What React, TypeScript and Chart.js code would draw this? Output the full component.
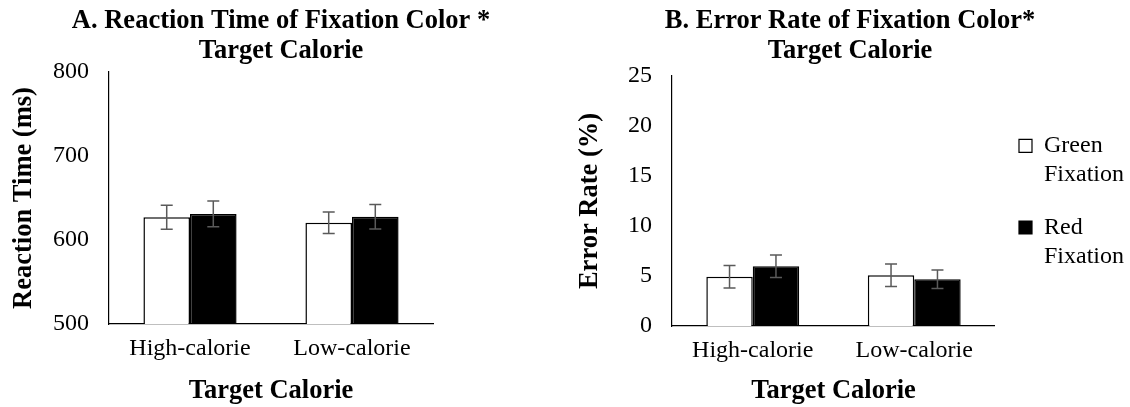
import React, { useEffect, useRef } from 'react';
import { Chart, registerables } from 'chart.js';

Chart.register(...registerables);

// ---- data ----
const categories = ['High-calorie', 'Low-calorie'];
const seriesNames = ['Green Fixation', 'Red Fixation'];

const rtGreen = [627, 620.6];
const rtRed = [631, 627.7];
const rtGreenErr = [14.3, 12.8];
const rtRedErr = [15.3, 14.5];
const rtAxis = [500, 800, 100]; // min, max, step

const erGreen = [4.93, 5.07];
const erRed = [5.97, 4.67];
const erGreenErr = [1.13, 1.13];
const erRedErr = [1.13, 0.92];
const erAxis = [0, 25, 5]; // min, max, step

const titleA = ['A. Reaction Time of Fixation Color *', 'Target Calorie'];
const titleB = ['B. Error Rate of Fixation Color*', 'Target Calorie'];
const yTitleA = 'Reaction Time (ms)';
const yTitleB = 'Error Rate (%)';
const xTitle = 'Target Calorie';

// ---- styling ----
const FAMILY = "'Liberation Serif', 'Times New Roman', serif";
const TEXT = '#000';
const H = 407;

const errorBars = {
  id: 'errorBars',
  afterDatasetsDraw(chart: any) {
    const ctx = chart.ctx;
    const yScale = chart.scales.y;
    chart.data.datasets.forEach((ds: any, i: number) => {
      const meta = chart.getDatasetMeta(i);
      if (meta.hidden || !ds.errors) return;
      meta.data.forEach((bar: any, j: number) => {
        const v = ds.data[j];
        const e = ds.errors[j];
        const x = bar.x;
        const yTop = yScale.getPixelForValue(v + e);
        const yBot = yScale.getPixelForValue(v - e);
        const cap = 6;
        ctx.save();
        ctx.strokeStyle = '#5a5a5a';
        ctx.lineWidth = 1.5;
        ctx.beginPath();
        ctx.moveTo(x, yTop);
        ctx.lineTo(x, yBot);
        ctx.moveTo(x - cap, yTop);
        ctx.lineTo(x + cap, yTop);
        ctx.moveTo(x - cap, yBot);
        ctx.lineTo(x + cap, yBot);
        ctx.stroke();
        ctx.restore();
      });
    });
  },
};

function makeDatasets(green: number[], red: number[], gErr: number[], rErr: number[]) {
  const common = {
    borderColor: '#000',
    borderWidth: 1.5,
    barPercentage: 1,
    categoryPercentage: 0.575,
    yAxisID: 'y',
  };
  return [
    { ...common, label: seriesNames[0], data: green, errors: gErr, backgroundColor: '#fff' },
    { ...common, label: seriesNames[1], data: red, errors: rErr, backgroundColor: '#000' },
  ];
}

function makeConfig(p: {
  title: string[];
  titlePadBottom: number;
  yTitle: string;
  axis: number[];
  yWidth: number;
  xHeight: number;
  green: number[];
  red: number[];
  gErr: number[];
  rErr: number[];
  legend: boolean;
  spacer: number;
}): any {
  const scales: any = {
    x: {
      type: 'category',
      grid: { display: false, drawTicks: false },
      border: { display: true, color: '#000', width: 1.2 },
      ticks: { color: TEXT, font: { family: FAMILY, size: 24 }, padding: 10 },
      title: {
        display: true,
        text: xTitle,
        color: TEXT,
        font: { family: FAMILY, size: 26.5, weight: 'bold', lineHeight: 1.2 },
        padding: { top: 0, bottom: 0 },
      },
      afterFit: (s: any) => {
        s.height = p.xHeight;
      },
    },
    y: {
      type: 'linear',
      position: 'left',
      min: p.axis[0],
      max: p.axis[1],
      beginAtZero: false,
      grid: { display: false, drawTicks: false },
      border: { display: true, color: '#000', width: 1.2 },
      ticks: { stepSize: p.axis[2], color: TEXT, font: { family: FAMILY, size: 24 }, padding: 20 },
      title: {
        display: true,
        text: p.yTitle,
        color: TEXT,
        font: { family: FAMILY, size: 26.5, weight: 'bold', lineHeight: 1.2 },
        padding: { top: 8, bottom: 0 },
      },
      afterFit: (s: any) => {
        s.width = p.yWidth;
      },
    },
  };
  if (p.spacer > 0) {
    scales.spacer = {
      type: 'linear',
      position: 'right',
      display: true,
      grid: { display: false, drawTicks: false },
      border: { display: false },
      ticks: { display: false },
      afterFit: (s: any) => {
        s.width = p.spacer;
      },
    };
  }
  return {
    type: 'bar',
    data: {
      labels: categories,
      datasets: makeDatasets(p.green, p.red, p.gErr, p.rErr),
    },
    options: {
      responsive: false,
      maintainAspectRatio: false,
      animation: false,
      events: [],
      layout: { padding: 0 },
      scales,
      plugins: {
        tooltip: { enabled: false },
        title: {
          display: true,
          text: p.title,
          color: TEXT,
          font: { family: FAMILY, size: 26.5, weight: 'bold', lineHeight: 1.132 },
          padding: { top: 6, bottom: p.titlePadBottom },
        },
        legend: {
          display: p.legend,
          position: 'right',
          align: 'center',
          labels: {
            color: TEXT,
            font: { family: FAMILY, size: 24, lineHeight: 1.2 },
            boxWidth: 13,
            boxHeight: 13,
            padding: 24,
            generateLabels: (chart: any) => {
              const items = Chart.defaults.plugins.legend.labels.generateLabels(chart);
              return items.map((it: any) => ({ ...it, text: String(it.text).split(' '), lineWidth: 1.2 }));
            },
          },
        },
      },
    },
    plugins: [errorBars],
  };
}

function Panel({ left, width, config }: { left: number; width: number; config: () => any }) {
  const ref = useRef<HTMLCanvasElement | null>(null);
  useEffect(() => {
    if (!ref.current) return;
    const chart = new Chart(ref.current, config());
    return () => chart.destroy();
  }, []);
  return (
    <canvas
      ref={ref}
      width={width}
      height={H}
      style={{ position: 'absolute', left, top: 0, width, height: H, display: 'block' }}
    />
  );
}

export default function App() {
  return (
    <div
      style={{
        position: 'absolute',
        left: 0,
        top: 0,
        width: 1130,
        height: H,
        overflow: 'hidden',
        background: '#fff',
      }}
    >
      <Panel
        left={0}
        width={562}
        config={() =>
          makeConfig({
            title: titleA,
            titlePadBottom: 6,
            yTitle: yTitleA,
            axis: rtAxis,
            yWidth: 109,
            xHeight: H - 324,
            green: rtGreen,
            red: rtRed,
            gErr: rtGreenErr,
            rErr: rtRedErr,
            legend: false,
            spacer: 129,
          })
        }
      />
      <Panel
        left={566}
        width={568}
        config={() =>
          makeConfig({
            title: titleB,
            titlePadBottom: 10,
            yTitle: yTitleB,
            axis: erAxis,
            yWidth: 106,
            xHeight: H - 326,
            green: erGreen,
            red: erRed,
            gErr: erGreenErr,
            rErr: erRedErr,
            legend: true,
            spacer: 0,
          })
        }
      />
    </div>
  );
}
